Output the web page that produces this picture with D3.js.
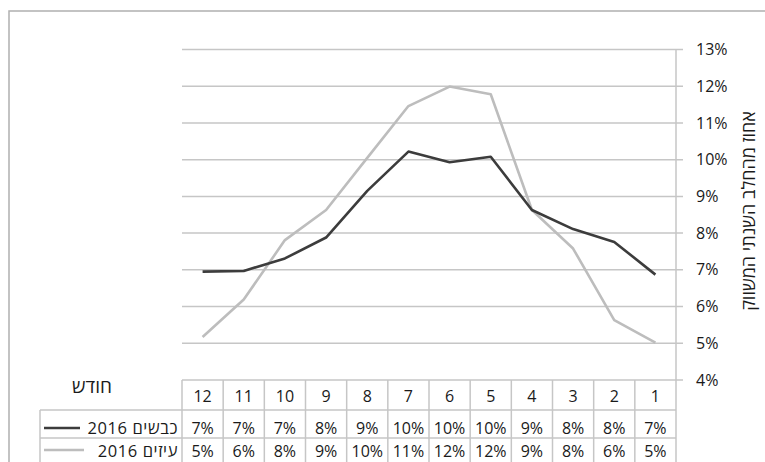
<!DOCTYPE html>
<html><head><meta charset="utf-8">
<script src="https://cdn.jsdelivr.net/npm/d3@7"></script>
<style>
html,body{margin:0;padding:0;background:#fff;}
svg{display:block;font-family:"Open Sans","DejaVu Sans",sans-serif;}
</style></head>
<body>
<svg id="chart" width="765" height="462"></svg>
<script>
const months = [1,2,3,4,5,6,7,8,9,10,11,12];
const sheep = [6.87,7.76,8.11,8.63,10.08,9.93,10.22,9.15,7.88,7.31,6.97,6.95];
const goats = [5.02,5.63,7.58,8.63,11.78,11.99,11.46,10.05,8.63,7.81,6.19,5.17];
const seriesNames = ["כבשים 2016","עיזים 2016"];
const yTicks = [4,5,6,7,8,9,10,11,12,13];
const yTitle = "אחוז מהחלב השנתי המשווק";
const xTitle = "חודש";

(function(){
const svg = d3.select("#chart");
const pL = 182, pR = 676, pT = 49.5, pB = 380;
const x = d3.scaleBand().domain(months.slice().reverse()).range([pL, pR]);
const y = d3.scaleLinear().domain([4,13]).range([pB, pT]);
const grid = "#c6c6c6";
const ink = "#1a1a1a";

svg.append("rect").attr("x",9).attr("y",11).attr("width",800).attr("height",500)
  .attr("fill","none").attr("stroke","#b0b0b0").attr("stroke-width",1.5);

svg.append("g").selectAll("line").data(yTicks).join("line")
  .attr("x1",pL).attr("x2",pR+7)
  .attr("y1",d=>y(d)).attr("y2",d=>y(d))
  .attr("stroke",grid).attr("stroke-width",1.5);
svg.append("line").attr("x1",pR).attr("x2",pR).attr("y1",pT).attr("y2",462)
  .attr("stroke",grid).attr("stroke-width",1.5);
svg.append("g").selectAll("text").data(yTicks).join("text")
  .attr("x",696).attr("y",d=>y(d)).attr("dy","0.35em")
  .attr("font-size",16).attr("fill",ink).text(d=>d+"%");
svg.append("text").attr("transform","translate(749,211) rotate(-90)")
  .attr("text-anchor","middle").attr("dy","0.35em").attr("font-size",18).attr("fill",ink)
  .text(yTitle);

const t = svg.append("g");
[410,438].forEach(yy=>t.append("line").attr("x1",40).attr("x2",pR).attr("y1",yy).attr("y2",yy)
  .attr("stroke",grid).attr("stroke-width",1.5));
months.forEach(m=>{
  t.append("line").attr("x1",x(m)).attr("x2",x(m)).attr("y1",pB).attr("y2",462)
   .attr("stroke",grid).attr("stroke-width",1.5);
});
t.append("line").attr("x1",40).attr("x2",40).attr("y1",410).attr("y2",462)
  .attr("stroke",grid).attr("stroke-width",1.5);

const fmt = v => Math.round(v)+"%";
t.selectAll(".hdr").data(months).join("text").attr("class","hdr")
  .attr("x",d=>x(d)+x.bandwidth()/2).attr("y",402).attr("text-anchor","middle")
  .attr("font-size",16).attr("fill",ink).text(d=>d);
[sheep,goats].forEach((arr,i)=>{
  t.selectAll(".r"+i).data(months).join("text").attr("class","r"+i)
   .attr("x",d=>x(d)+x.bandwidth()/2).attr("y",[434,457][i]).attr("text-anchor","middle")
   .attr("font-size",16).attr("fill",ink).text((d,j)=>fmt(arr[j]));
});
const colors = ["#3c3c3c","#bdbdbd"];
seriesNames.forEach((nm,i)=>{
  const yy = [428,450][i];
  t.append("line").attr("x1",44).attr("x2",[80,84][i]).attr("y1",yy).attr("y2",yy)
   .attr("stroke",colors[i]).attr("stroke-width",2.5);
  t.append("text").attr("x",178).attr("y",[434,457][i]).attr("text-anchor","end")
   .attr("font-size",16.5).attr("letter-spacing",0.6).attr("fill",ink).text(nm);
});
svg.append("text").attr("x",92).attr("y",393).attr("text-anchor","middle")
  .attr("font-size",19).attr("fill",ink).text(xTitle);

const line = d3.line().x(d=>x(d[0])+x.bandwidth()/2).y(d=>y(d[1]));
[[goats,1],[sheep,0]].forEach(([arr,i])=>{
  svg.append("path").datum(months.map((m,j)=>[m,arr[j]]))
    .attr("d",line).attr("fill","none").attr("stroke",colors[i])
    .attr("stroke-width",2.6).attr("stroke-linejoin","round");
});
})();
</script>
</body></html>
